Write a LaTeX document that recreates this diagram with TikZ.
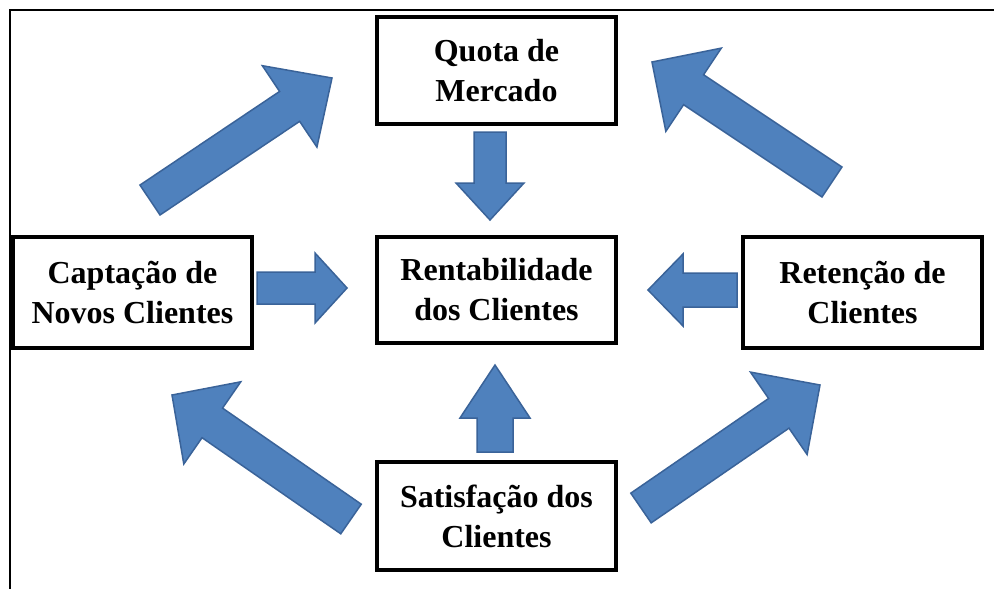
\documentclass[tikz,border=0pt]{standalone}
\usepackage{fontspec}
\setmainfont{Liberation Serif}
\usetikzlibrary{calc}

\definecolor{arrowfill}{HTML}{4F81BD}
\definecolor{arrowline}{HTML}{3A6399}

\tikzset{
  box/.style={draw, line width=4pt, align=center, inner sep=0pt,
    minimum width=239pt, font=\fontsize{32}{40}\selectfont\bfseries},
  blockarrow/.style={fill=arrowfill, draw=arrowline, line width=1.5pt, line join=miter},
}

% tail, tip, half shaft width, half head width, head length
\newcommand\blockarrow[5]{%
  \path ($(#2)!#5!(#1)$) coordinate (hb);
  \draw[blockarrow] ($(#1)!#3!90:(#2)$) -- ($(hb)!#3!90:(#2)$)
    -- ($(hb)!#4!90:(#2)$) -- (#2) -- ($(hb)!#4!-90:(#2)$)
    -- ($(hb)!#3!-90:(#2)$) -- ($(#1)!#3!-90:(#2)$) -- cycle;
}

\begin{document}
\begin{tikzpicture}[x=1pt, y=-1pt]
\useasboundingbox (0,0) rectangle (994,589);
\fill[white] (0,0) rectangle (994,589);
\draw[line width=2pt] (994,10) -- (10,10) -- (10,589);

% boxes
\node[box, minimum height=107pt] (quota) at (496.5,70.5) {Quota de\\Mercado};
\node[box, minimum height=106pt] (rent) at (496.5,290) {Rentabilidade\\dos Clientes};
\node[box, minimum height=111pt] (capt) at (132.5,292.5) {Captação de\\Novos Clientes};
\node[box, minimum height=111pt] (ret) at (862.5,292.5) {Retenção de\\Clientes};
\node[box, minimum height=108pt] (satis) at (496.5,516) {Satisfação dos\\Clientes};

% arrow ends
\coordinate (quotaTail) at (490,132);
\coordinate (quotaTip) at (490,220);
\coordinate (satisTail) at (495,452);
\coordinate (satisTip) at (495,365);
\coordinate (captTail) at (257,288);
\coordinate (captTip) at (347,288);
\coordinate (retTail) at (737,290);
\coordinate (retTip) at (648,290);
\coordinate (capTail) at (150,200);
\coordinate (capTip) at (332,78);
\coordinate (retenTail) at (832,182);
\coordinate (retenTip) at (652,62);
\coordinate (satLTail) at (351,519);
\coordinate (satLTip) at (172,395);
\coordinate (satRTail) at (641,508);
\coordinate (satRTip) at (820,385);

% arrows into rentabilidade
\blockarrow{quotaTail}{quotaTip}{16pt}{34pt}{37pt}
\blockarrow{satisTail}{satisTip}{18pt}{35pt}{53pt}
\blockarrow{captTail}{captTip}{16pt}{35pt}{32pt}
\blockarrow{retTail}{retTip}{17pt}{36pt}{35pt}

% arrows round the outside
\blockarrow{capTail}{capTip}{18pt}{49pt}{51pt}
\blockarrow{retenTail}{retenTip}{18pt}{50pt}{50pt}
\blockarrow{satLTail}{satLTip}{18pt}{50pt}{49pt}
\blockarrow{satRTail}{satRTip}{18pt}{50pt}{50pt}
\end{tikzpicture}
\end{document}
